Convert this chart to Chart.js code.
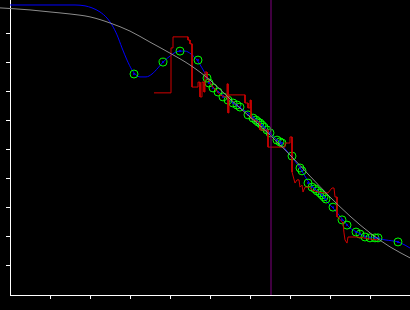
<!DOCTYPE html>
<html>
<head>
<meta charset="utf-8">
<script src="https://cdn.jsdelivr.net/npm/chart.js@4/dist/chart.umd.min.js"></script>
<style>
html,body{margin:0;padding:0;background:#000;}
#wrap{width:410px;height:310px;position:relative;background:#000;}
</style>
</head>
<body>
<div id="wrap"><canvas id="c"></canvas></div>
<script>
// Axis ticks (no labels shown)
const xTicks = [1,2,3,4,5,6,7,8,9];
const yTicks = [1,2,3,4,5,6,7,8,9];

// Smooth reference curve (gray)
const grayX = [-0.25,0.5,1,1.5,2,2.5,3,3.5,4,4.5,5,5.5,6,6.5,7,7.5,8,8.5,9,9.5,10];
const grayY = [9.90,9.83,9.76,9.69,9.59,9.38,9.10,8.72,8.34,7.93,7.41,6.76,6.14,5.52,4.83,4.10,3.38,2.72,2.14,1.66,1.28];

// Fitted curve (blue)
const blueX = [0,1.625,1.875,2.05,2.25,2.425,2.55,2.675,2.8,2.925,3.05,3.15,3.25,3.4,3.55,3.7,3.825,4,4.15,4.25,4.375,4.525,4.675,4.8,4.925,5.075,5.25,5.5,5.75,6,6.25,6.5,6.75,7,7.25,7.45,7.65,7.875,8.075,8.325,8.5,8.675,8.875,9.125,9.375,9.7,9.875,10];
const blueY = [10.0,10.0,9.97,9.90,9.76,9.55,9.31,8.97,8.52,8.10,7.76,7.59,7.52,7.52,7.62,7.83,8.03,8.24,8.38,8.41,8.41,8.31,8.10,7.83,7.52,7.17,6.97,6.69,6.45,6.24,5.93,5.59,5.24,4.83,4.38,3.93,3.62,3.28,3.00,2.59,2.31,2.17,2.03,1.97,1.90,1.83,1.72,1.62];

// Noisy step estimate (red)
const redX = [3.6,4.025,4.025,4.075,4.075,4.45,4.45,4.5,4.5,4.55,4.55,4.7,4.7,4.75,4.75,4.8,4.8,4.85,4.85,4.875,4.875,4.925,4.925,5.0,5.075,5.15,5.25,5.375,5.425,5.425,5.45,5.45,5.475,5.475,5.875,5.875,5.95,5.95,6.0,6.0,6.025,6.025,6.125,6.2,6.25,6.25,6.45,6.45,6.875,6.875,7.0,7.0,7.05,7.05,7.125,7.175,7.225,7.25,7.3,7.325,7.375,7.5,7.55,7.7,7.825,7.95,8.05,8.1,8.125,8.175,8.175,8.2,8.3,8.325,8.35,8.375,8.425,8.45,8.55,8.675,8.825,9.0,9.2];
const redY = [6.97,6.97,8.52,8.52,8.90,8.90,8.79,8.79,8.66,8.66,7.17,7.17,7.34,7.34,6.83,6.83,7.34,7.34,7.00,7.00,7.69,7.69,7.48,7.34,7.17,7.07,6.90,6.83,6.83,7.28,7.28,6.28,6.28,6.90,6.90,6.62,6.62,6.45,6.45,6.72,6.72,6.10,6.03,5.97,5.93,5.69,5.69,5.10,5.10,5.24,5.24,5.45,5.45,4.24,3.86,3.97,3.97,3.72,3.79,3.55,3.72,3.72,3.62,3.55,3.52,3.52,3.69,3.69,3.38,3.38,2.69,2.69,2.52,2.48,2.14,1.90,1.79,2.00,2.00,2.00,1.97,1.93,1.90];

// Observations (green circles)
const obsX = [3.1,3.825,4.25,4.7,4.925,4.975,5.075,5.2,5.325,5.45,5.575,5.675,5.75,5.95,6.075,6.15,6.2,6.25,6.3,6.35,6.425,6.5,6.675,6.75,6.8,7.05,7.25,7.3,7.45,7.55,7.625,7.675,7.75,7.8,7.85,7.9,8.075,8.3,8.425,8.65,8.75,8.875,9.0,9.125,9.2,9.7];
const obsY = [7.62,8.03,8.41,8.10,7.48,7.31,7.14,7.00,6.83,6.72,6.62,6.55,6.48,6.21,6.10,6.03,5.97,5.93,5.86,5.79,5.69,5.59,5.34,5.28,5.24,4.79,4.38,4.28,3.86,3.72,3.66,3.59,3.52,3.45,3.38,3.31,3.03,2.59,2.41,2.17,2.10,2.00,1.97,1.97,1.97,1.83];

// Vertical marker
const markerX = 6.525;
const yMin = 0, yMax = 10.172, xMin = 0, xMax = 10;

const zip = (xs, ys) => xs.map((x, i) => ({x, y: ys[i]}));

new Chart(document.getElementById('c'), {
  type: 'line',
  data: {
    datasets: [
      { data: [{x: markerX, y: yMin}, {x: markerX, y: yMax}], borderColor: '#800080', borderWidth: 1, pointRadius: 0, order: 0 },
      { data: zip(grayX, grayY), borderColor: '#8c8c8c', borderWidth: 1, pointRadius: 0, tension: 0.4, cubicInterpolationMode: 'monotone', clip: false, order: 1 },
      { data: zip(redX, redY), borderColor: '#d00000', borderWidth: 1, pointRadius: 0, tension: 0, order: 2 },
      { data: zip(obsX, obsY), showLine: false, pointRadius: 1, pointBorderWidth: 0, pointBackgroundColor: '#0000ff', order: 3 },
      { data: zip(obsX, obsY), showLine: false, pointRadius: 4, pointBorderWidth: 1, pointBorderColor: '#00ff00', pointBackgroundColor: 'rgba(0,0,0,0)', order: 4 },
      { data: zip(blueX, blueY), borderColor: '#0000ff', borderWidth: 1, pointRadius: 0, cubicInterpolationMode: 'monotone', order: 5 }
    ]
  },
  options: {
    responsive: true,
    maintainAspectRatio: false,
    animation: false,
    events: [],
    layout: { padding: 0, autoPadding: false },
    plugins: { legend: { display: false }, tooltip: { enabled: false } },
    scales: {
      x: {
        type: 'linear', min: xMin, max: xMax,
        afterBuildTicks: s => { s.ticks = xTicks.map(v => ({value: v})); },
        afterFit: s => { s.height = 15; },
        ticks: { display: false },
        grid: { drawOnChartArea: false, color: '#ffffff', tickLength: 4, lineWidth: 1 },
        border: { display: true, color: '#ffffff', width: 1 }
      },
      y: {
        type: 'linear', min: yMin, max: yMax,
        afterBuildTicks: s => { s.ticks = yTicks.map(v => ({value: v})); },
        afterFit: s => { s.width = 10; },
        ticks: { display: false },
        grid: { drawOnChartArea: false, color: '#ffffff', tickLength: 4, lineWidth: 1 },
        border: { display: true, color: '#ffffff', width: 1 }
      }
    }
  }
});
</script>
</body>
</html>
